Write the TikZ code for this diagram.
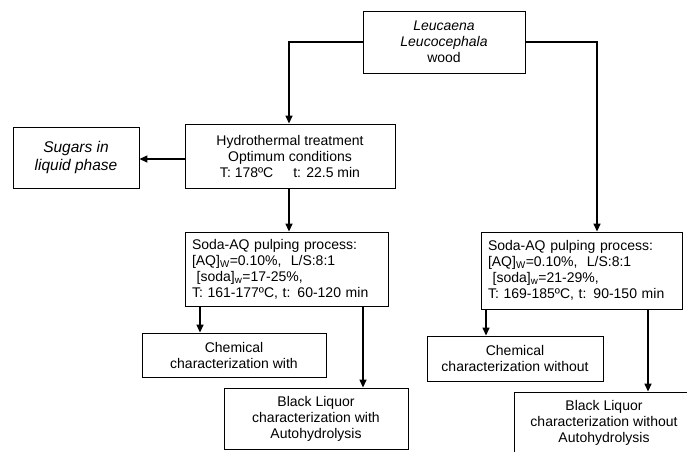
\documentclass[tikz,border=0pt]{standalone}
\usepackage{fontspec}
\setmainfont{Liberation Sans}
\usetikzlibrary{arrows.meta,calc}
\begin{document}
\begin{tikzpicture}[x=1pt,y=-1pt,
  box/.style={draw=black,line width=0.9pt,rectangle,inner sep=0pt,align=center,
    font=\fontsize{14}{16}\selectfont},
  leftbox/.style={box,align=left,inner xsep=7pt,inner ysep=0pt},
  arr/.style={line width=1.4pt,-{Triangle[length=8pt,width=7pt]}},
  ln/.style={line width=1.4pt}]
\path[use as bounding box,clip] (0,0) rectangle (687,451);
\fill[white] (0,0) rectangle (687,451);

\node[box,minimum width=162pt,minimum height=62pt] (leu) at (444,42)
  {\textit{Leucaena}\\\textit{Leucocephala}\\wood};
\node[box,minimum width=210pt,minimum height=64pt] (hydro) at (290,156)
  {Hydrothermal treatment\\Optimum conditions\\T: 178ºC\hspace{20pt}t: 22.5 min};
\node[box,minimum width=126pt,minimum height=61pt,font=\fontsize{15.5}{18}\selectfont\itshape] (sug) at (76,157.5)
  {Sugars in\\liquid phase};
\node[leftbox,text width=189pt,minimum height=74pt] (lsoda) at (286.5,269)
  {Soda-AQ pulping process:\\\relax[AQ]\textsubscript{W}=0.10\%,\ \ L/S:8:1\\\relax\ [soda]\textsubscript{w}=17-25\%,\\T: 161-177ºC, t: 60-120 min};
\node[leftbox,text width=187pt,minimum height=77pt] (rsoda) at (581.5,270.5)
  {Soda-AQ pulping process:\\\relax[AQ]\textsubscript{W}=0.10\%,\ \ L/S:8:1\\\relax\ [soda]\textsubscript{w}=21-29\%,\\T: 169-185ºC, t: 90-150 min};
\node[box,minimum width=184pt,minimum height=44pt] (lchem) at (234,355)
  {Chemical\\characterization with};
\node[box,minimum width=184pt,minimum height=61pt] (lbl) at (316,418.5)
  {Black Liquor\\characterization with\\Autohydrolysis};
\node[box,minimum width=176pt,minimum height=45pt] (rchem) at (515,358.5)
  {Chemical\\characterization without};
\node[box,minimum width=180pt,minimum height=62pt] (rbl) at (604,423)
  {Black Liquor\\characterization without\\Autohydrolysis};

\draw[arr] (leu.west) -| ([xshift=-1pt]hydro.north);
\draw[arr] (leu.east) -| ([xshift=15.5pt]rsoda.north);
\draw[arr] ([yshift=-3pt]hydro.west) -- ([yshift=-3pt]hydro.west -| sug.east);
\draw[arr] ([xshift=-1pt]hydro.south) -- ([xshift=-1pt]hydro.south |- lsoda.north);
\draw[arr] ([xshift=-34pt]lchem.north |- lsoda.south) -- ([xshift=-34pt]lchem.north);
\draw[arr] ([xshift=47pt]lbl.north |- lsoda.south) -- ([xshift=47pt]lbl.north);
\draw[arr] ([xshift=-29pt]rchem.north |- rsoda.south) -- ([xshift=-29pt]rchem.north);
\draw[arr] ([xshift=44pt]rbl.north |- rsoda.south) -- ([xshift=44pt]rbl.north);
\end{tikzpicture}
\end{document}
